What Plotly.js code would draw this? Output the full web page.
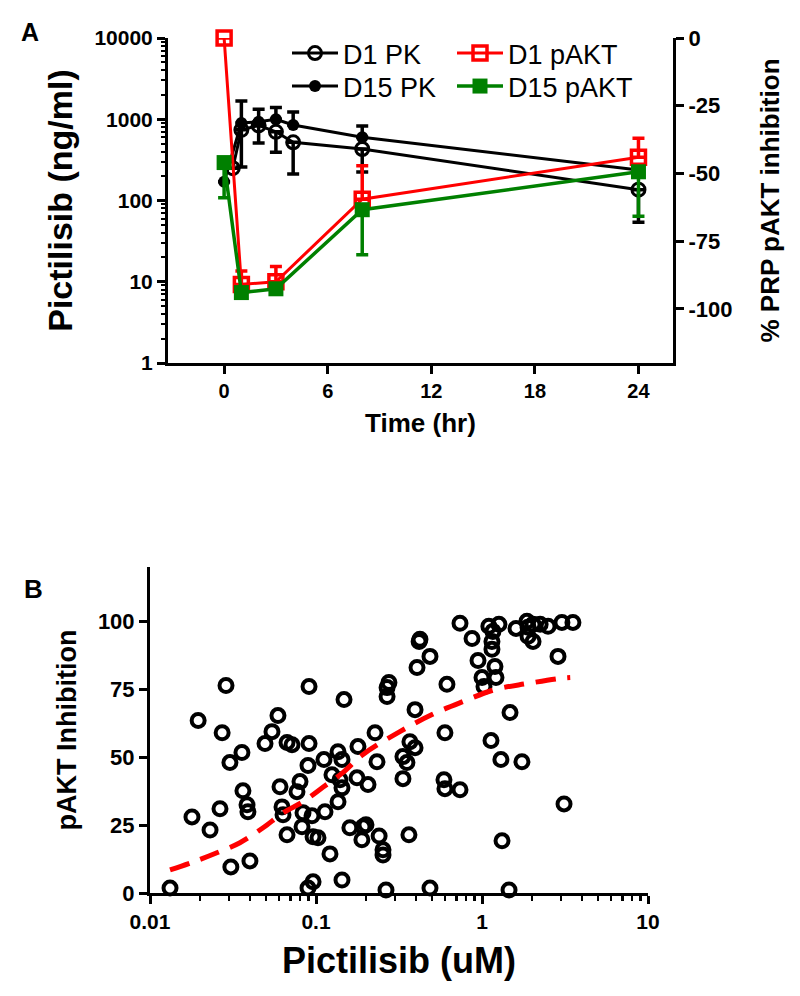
<!DOCTYPE html>
<html>
<head>
<meta charset="utf-8">
<script src="https://cdn.plot.ly/plotly-3.0.1.min.js"></script>
<style>html,body{margin:0;padding:0;background:#fff;}#chart{width:800px;height:996px;}</style>
</head>
<body>
<div id="chart"></div>
<script>
// ---------- Panel A data ----------
var timesD1PK = [0.5, 1, 2, 3, 4, 8, 24];
var d1PK = [250, 740, 840, 700, 520, 430, 136];
var d1PKErrMinus = [0, 482, 330, 307, 308, 206, 82];

var timesD15PK = [0, 1, 2, 3, 4, 8, 24];
var d15PK = [170, 900, 930, 1000, 850, 600, 237];
var d15PKErrPlus = [0, 778, 400, 400, 380, 226, 0];

var timesPAKT = [0, 1, 3, 8, 24];
var d1pAKT = [0, -91, -90, -59.5, -44];
var d1pAKTErrPlus = [0, 5, 5.6, 12.3, 7];
var d15pAKT = [-46, -94, -92.6, -63.4, -49.4];
var d15pAKTErrMinus = [13, 0, 0, 16.6, 16.4];

var timeTicks = [0, 6, 12, 18, 24];
var pkTickVals = [1, 10, 100, 1000, 10000];
var pkTickText = ["1", "10", "100", "1000", "10000"];
var inhTickVals = [0, -25, -50, -75, -100];
var inhTickText = ["0", "-25", "-50", "-75", "-100"];

// ---------- Panel B data ----------
var concUM = [
 0.0287,0.0908,0.1475,0.0195,0.059,0.0272,0.0543,0.0493,0.0669,0.0717,
 0.0908,0.179,0.0358,0.0303,0.0895,0.1117,0.1357,0.1434,0.1248,0.1766,
 0.2057,0.0607,0.0801,0.0768,0.1395,0.1434,0.0363,0.0384,0.0389,0.0264,
 0.0179,0.0230,0.0624,0.0633,0.0835,0.0946,0.1133,0.1357,0.0824,0.0669,
 0.096,0.1028,0.160,0.192,0.189,0.1214,0.040,0.0307,0.0132,0.096,
 0.0895,0.1434,0.2268,0.598,0.368,0.395,0.334,0.353,0.334,0.233,
 1.133,1.30,1.74,0.590,0.598,0.737,3.12,0.200,0.240,0.2533,
 0.2533,0.363,1.32,0.264,0.486,1.455,0.737,0.871,1.10,1.265,
 1.164,1.148,1.148,0.946,1.197,1.0,1.214,1.028,1.603,1.866,
 2.03,2.24,2.5,1.893,2.03,1.893,3.03,3.53,2.87,1.475,
 0.423,0.418,0.486,0.406,0.615,0.275,0.268,0.268,0.395
];
var inhibition = [
 76.4,76.0,71.2,63.5,65.3,59.0,59.4,55.0,55.4,54.6,
 55.0,53.9,51.7,48.0,46.9,49.1,52.0,49.1,43.5,42.4,
 39.9,39.1,41.0,37.3,41.7,38.7,37.6,32.5,29.9,31.0,
 28.0,23.2,31.7,28.8,29.5,28.4,29.9,33.6,24.4,21.4,
 20.7,20.3,24.0,24.4,19.6,14.4,11.8,9.6,1.8,4.1,
 1.8,4.8,59.0,59.0,55.7,53.5,50.2,48.0,42.1,48.3,
 56.1,49.1,48.3,41.7,38.4,38.0,32.8,25.1,21.0,15.9,
 14.0,21.4,19.2,1.1,1.8,1.1,99.3,93.7,98.2,98.9,
 96.3,92.6,89.7,85.6,83.4,79.3,79.3,76.0,97.4,100,
 98.9,98.9,98.2,94.5,92.6,97.8,99.6,99.6,87.1,66.4,
 93.4,92.6,87.1,83.0,76.8,77.5,75.6,72.3,67.5
];
var fitConc = [0.0132,0.0182,0.0253,0.0348,0.048,0.0633,0.0835,0.1105,0.145,0.192,0.32,0.50,0.77,1.2,1.87,2.95,3.4];
var fitInhib = [8.5,11.4,14.8,18.5,24,29.5,33.6,39,44.3,51,59.4,65.7,70.5,74.9,77.1,79.0,79.3];

var concTickVals = [0.01, 0.1, 1, 10];
var concTickText = ["0.01", "0.1", "1", "10"];
var inhBTicks = [0, 25, 50, 75, 100];

// ---------- styling ----------
var FONT = "Liberation Sans, Arial, sans-serif";
var RED = "#ff0000", GREEN = "#008000", BLACK = "#000000";
var W = 800, H = 996;
function px(x){ return x / W; }
function py(y){ return 1 - y / H; }
function zeros(a){ return a.map(function(){ return 0; }); }

var traces = [
 {
  x: timesD1PK, y: d1PK, name: "D1 PK", type: "scatter", mode: "lines+markers",
  xaxis: "x", yaxis: "y", legend: "legend", cliponaxis: false,
  line: {color: BLACK, width: 3},
  marker: {symbol: "circle-open", size: 13, color: BLACK, line: {width: 3, color: BLACK}},
  error_y: {type: "data", symmetric: false, array: zeros(timesD1PK), arrayminus: d1PKErrMinus, color: BLACK, thickness: 3.5, width: 6}
 },
 {
  x: timesD15PK, y: d15PK, name: "D15 PK", type: "scatter", mode: "lines+markers",
  xaxis: "x", yaxis: "y", legend: "legend2", cliponaxis: false,
  line: {color: BLACK, width: 3},
  marker: {symbol: "circle", size: 12, color: BLACK},
  error_y: {type: "data", symmetric: false, array: d15PKErrPlus, arrayminus: zeros(timesD15PK), color: BLACK, thickness: 3.5, width: 6}
 },
 {
  x: timesPAKT, y: d1pAKT, name: "D1 pAKT", type: "scatter", mode: "lines+markers",
  xaxis: "x", yaxis: "y2", legend: "legend3", cliponaxis: false,
  line: {color: RED, width: 3},
  marker: {symbol: "square-open", size: 14, color: RED, line: {width: 3.5, color: RED}},
  error_y: {type: "data", symmetric: false, array: d1pAKTErrPlus, arrayminus: zeros(timesPAKT), color: RED, thickness: 3.5, width: 6}
 },
 {
  x: timesPAKT, y: d15pAKT, name: "D15 pAKT", type: "scatter", mode: "lines+markers",
  xaxis: "x", yaxis: "y2", legend: "legend4", cliponaxis: false,
  line: {color: GREEN, width: 3.5},
  marker: {symbol: "square", size: 15, color: GREEN},
  error_y: {type: "data", symmetric: false, array: zeros(timesPAKT), arrayminus: d15pAKTErrMinus, color: GREEN, thickness: 3.5, width: 6}
 },
 {
  x: concUM, y: inhibition, name: "pAKT inhibition", type: "scatter", mode: "markers",
  xaxis: "x2", yaxis: "y3", showlegend: false, cliponaxis: false,
  marker: {symbol: "circle-open", size: 13, color: BLACK, line: {width: 4, color: BLACK}}
 },
 {
  x: fitConc, y: fitInhib, name: "fit", type: "scatter", mode: "lines",
  xaxis: "x2", yaxis: "y3", showlegend: false,
  line: {color: RED, width: 5, dash: "20px,12px", shape: "spline"}
 }
];

var axisCommon = {
  showline: true, linecolor: BLACK, linewidth: 3, mirror: false,
  ticks: "outside", ticklen: 8, tickwidth: 3, tickcolor: BLACK,
  showgrid: false, zeroline: false, fixedrange: true
};
function ax(extra){ var o = {}; for (var k in axisCommon) o[k] = axisCommon[k]; for (var k2 in extra) o[k2] = extra[k2]; return o; }
function leg(x, yTop){
  return {x: px(x), y: py(yTop), xanchor: "left", yanchor: "top",
    bgcolor: "rgba(0,0,0,0)", borderwidth: 0, font: {size: 27, color: BLACK},
    itemwidth: 46, tracegroupgap: 0};
}

var layout = {
  width: W, height: H,
  margin: {l: 0, r: 0, t: 0, b: 0},
  paper_bgcolor: "#ffffff", plot_bgcolor: "#ffffff",
  font: {family: FONT, color: BLACK},
  xaxis: ax({
    domain: [px(168), px(673)], anchor: "y", range: [-3.25, 26],
    tickmode: "array", tickvals: timeTicks,
    tickfont: {size: 20, weight: "bold"},
    title: {text: "Time (hr)", font: {size: 26, weight: "bold"}, standoff: 13}
  }),
  yaxis: ax({
    domain: [py(363), py(38)], anchor: "x", type: "log", range: [0, 4],
    tickmode: "array", tickvals: pkTickVals, ticktext: pkTickText,
    tickfont: {size: 21, weight: "bold"},
    minor: {ticks: "outside", ticklen: 4, tickwidth: 2, tickcolor: BLACK, dtick: "D1", showgrid: false},
    title: {text: "Pictilisib (ng/ml)", font: {size: 34, weight: "bold"}, standoff: 12}
  }),
  yaxis2: ax({
    domain: [py(363), py(38)], anchor: "x", overlaying: "y", side: "right", range: [-120, 0],
    tickmode: "array", tickvals: inhTickVals, ticktext: inhTickText,
    tickfont: {size: 22, weight: "bold"},
    title: {text: "% PRP pAKT inhibition", font: {size: 26, weight: "bold"}, standoff: 30}
  }),
  xaxis2: ax({
    domain: [px(150), px(648)], anchor: "y3", type: "log", range: [-2, 1],
    tickmode: "array", tickvals: concTickVals, ticktext: concTickText,
    tickfont: {size: 21, weight: "bold"},
    minor: {ticks: "outside", ticklen: 5, tickwidth: 2.5, tickcolor: BLACK, dtick: "D1", showgrid: false},
    title: {text: "Pictilisib (uM)", font: {size: 36, weight: "bold"}, standoff: 16}
  }),
  yaxis3: ax({
    domain: [py(893), py(567)], anchor: "x2", range: [0, 120],
    tickmode: "array", tickvals: inhBTicks,
    tickfont: {size: 22, weight: "bold"},
    title: {text: "pAKT Inhibition", font: {size: 27, weight: "bold"}, standoff: 14}
  }),
  legend: leg(287, 29),
  legend2: leg(287, 62),
  legend3: leg(452, 29),
  legend4: leg(452, 62),
  annotations: [
    {text: "A", x: px(30), y: py(32), xref: "paper", yref: "paper", xanchor: "center", yanchor: "middle", showarrow: false, font: {size: 25, weight: "bold"}},
    {text: "B", x: px(33), y: py(589), xref: "paper", yref: "paper", xanchor: "center", yanchor: "middle", showarrow: false, font: {size: 26, weight: "bold"}}
  ],
  showlegend: true
};

Plotly.newPlot("chart", traces, layout, {staticPlot: true, displayModeBar: false});
</script>
</body>
</html>
